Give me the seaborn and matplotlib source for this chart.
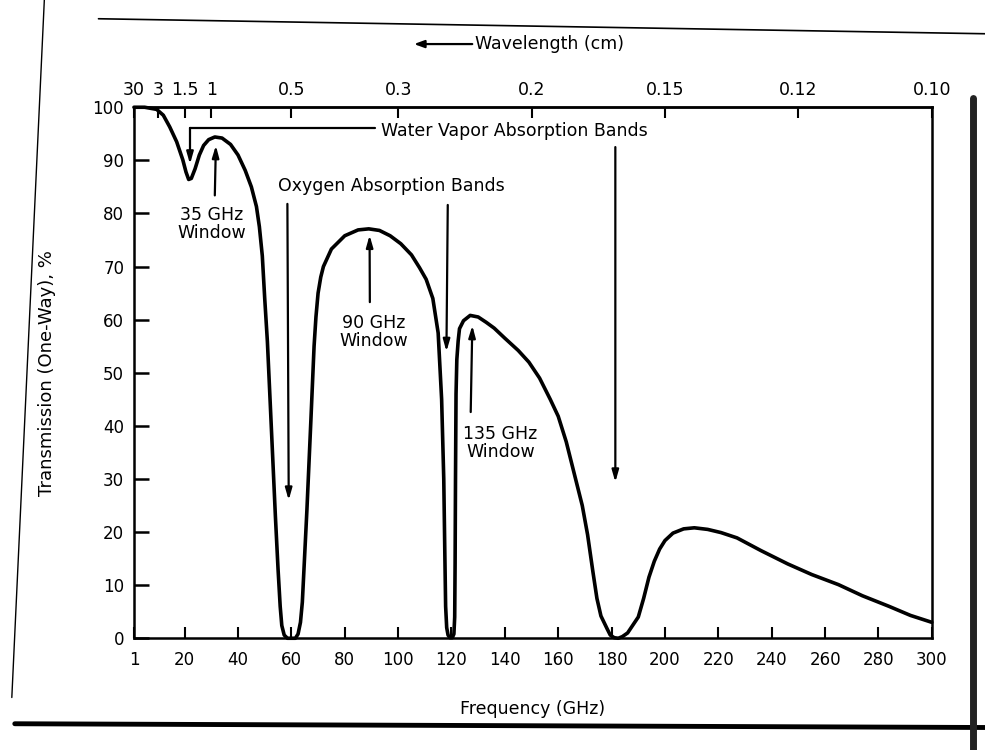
import matplotlib
matplotlib.use("Agg")
import matplotlib.pyplot as plt
from matplotlib.lines import Line2D
import seaborn as sns
import pandas as pd

# ---------------- data ----------------
freq_ghz = [1, 5, 9.5, 12, 14.4, 17, 19.3, 20.5, 21.5, 22.5, 23.9, 25.5, 27.1, 29, 31.3, 34,
            37.2, 40, 42.7, 45, 46.9, 48, 49.1, 50, 51, 52, 53, 54, 55, 55.8, 56.4, 57.3,
            58.5, 61.5, 62.5, 63.4, 64.1, 65.8, 67.3, 68.5, 69.2, 70, 71, 72, 75, 80, 85, 89,
            93, 97, 101, 105, 108, 110.5,
            113, 115, 116.3, 117.1, 117.5, 117.8, 118.2, 118.7, 119.4, 120.3, 120.9, 121.2,
            121.35, 121.5, 121.7, 122, 122.5, 123, 124.5,
            127, 130, 133, 136, 140, 145, 149, 153, 157, 160, 163, 166, 169, 171, 173, 174.5,
            176, 178.3, 179.5, 181, 182.5, 184, 186, 188, 190, 192, 194, 196, 198, 200, 203,
            207, 211, 216, 221, 227, 236, 246, 255, 265, 274, 284, 292, 300]
transmission_pct = [100, 100, 99.6, 98.5, 96.3, 93.5, 90.1, 87.8, 86.4, 86.6, 88.4, 91, 92.8,
                    93.9, 94.4, 94.2, 93, 91, 88.1, 85, 81.3, 77.5, 72, 64, 55.9, 45, 34, 23,
                    13, 6, 2.4, 0.6, 0, 0, 0.8, 3, 6.8, 24, 41, 55, 60.5, 65, 68, 70, 73.3,
                    75.8, 76.9, 77.1, 76.8, 75.8, 74.3, 72.2, 69.8, 67.6,
                    64, 57.5, 45, 30, 16, 6, 2, 0.6, 0.1, 0.1, 0.8, 4,
                    14, 30, 46, 52.5, 56, 58.3, 59.8,
                    60.8, 60.5, 59.5, 58.4, 56.5, 54.2, 52, 49, 45, 41.8, 37, 31, 25, 19.5, 12.5,
                    7.5, 4.2, 1.8, 0.6, 0.1, 0, 0.3, 1, 2.5, 4, 7.5, 11.5, 14.5, 16.8, 18.4,
                    19.8, 20.6, 20.8, 20.5, 19.9, 18.9, 16.5, 14, 12, 10.1, 8, 6, 4.3, 3]

x_ticks = [1, 20, 40, 60, 80, 100, 120, 140, 160, 180, 200, 220, 240, 260, 280, 300]
y_ticks = [0, 10, 20, 30, 40, 50, 60, 70, 80, 90, 100]
wavelength_tick_freqs = [1, 10, 20, 30, 60, 100, 150, 200, 250, 300]
wavelength_tick_labels = ["30", "3", "1.5", "1", "0.5", "0.3", "0.2", "0.15", "0.12", "0.10"]

df = pd.DataFrame({"Frequency (GHz)": freq_ghz, "Transmission": transmission_pct})

# ---------------- style ----------------
sns.set_style("white")
plt.rcParams["font.family"] = ["DejaVu Sans"]
plt.rcParams["axes.linewidth"] = 1.8
for key in ["text.color", "axes.labelcolor", "xtick.color", "ytick.color"]:
    plt.rcParams[key] = "black"

fig = plt.figure(figsize=(9.85, 7.5), dpi=100)
ax = fig.add_axes([0.136, 0.149, 0.810, 0.708])

sns.lineplot(data=df, x="Frequency (GHz)", y="Transmission", ax=ax, color="black",
             lw=2.6, estimator=None, sort=False, clip_on=False)
ax.lines[0].set_solid_joinstyle("round")

ax.set_xlim(1, 300)
ax.set_ylim(0, 100)
ax.set_xticks(x_ticks)
ax.set_xticklabels([str(t) for t in x_ticks], fontsize=12)
ax.set_yticks(y_ticks)
ax.set_yticklabels([str(t) for t in y_ticks], fontsize=12)
ax.tick_params(axis="x", direction="in", length=8, width=1.5, pad=9, bottom=True, top=False)
ax.tick_params(axis="y", direction="in", length=11, width=1.8, pad=7, left=True, right=False)
for s in ax.spines.values():
    s.set_color("black")
    s.set_linewidth(1.8)

ax.set_xlabel("Frequency (GHz)", fontsize=12.5)
ax.xaxis.set_label_coords(0.5, -0.117)
ax.set_ylabel("Transmission (One-Way), %", fontsize=13)
ax.yaxis.set_label_coords(-0.098, 0.5)

# top wavelength axis
top = ax.secondary_xaxis("top")
top.set_xticks(wavelength_tick_freqs)
top.set_xticklabels(wavelength_tick_labels, fontsize=12.5)
top.tick_params(direction="in", length=8, width=1.5, pad=6, colors="black")
top.spines["top"].set_linewidth(1.8)

ax.annotate("", xy=(0.351, 1.119), xytext=(0.424, 1.119), xycoords="axes fraction",
            arrowprops=dict(arrowstyle="-|>,head_length=0.6,head_width=0.22",
                            color="black", lw=1.6, shrinkA=0, shrinkB=0))
ax.text(0.428, 1.119, "Wavelength (cm)", transform=ax.transAxes, fontsize=12.5,
        ha="left", va="center")

# ---------------- annotations ----------------
arrow_kw = dict(arrowstyle="-|>,head_length=0.7,head_width=0.2", color="black", lw=1.6,
                shrinkA=0, shrinkB=0)
fs = 12.5

# Water vapour bands
ax.plot([22, 91.5], [96, 96], color="black", lw=1.6)
ax.annotate("", xy=(22, 89.3), xytext=(22, 96.1), arrowprops=arrow_kw)
ax.text(93.5, 95.6, "Water Vapor Absorption Bands", fontsize=fs, ha="left", va="center")
ax.annotate("", xy=(181.4, 29.4), xytext=(181.4, 92.5), arrowprops=arrow_kw)

# Oxygen bands
ax.text(97.5, 85.2, "Oxygen Absorption Bands", fontsize=fs, ha="center", va="center")
ax.annotate("", xy=(59, 26), xytext=(58.5, 81.8), arrowprops=arrow_kw)
ax.annotate("", xy=(118.1, 54), xytext=(118.6, 81.6), arrowprops=arrow_kw)

# Windows
ax.text(30.1, 78.1, "35 GHz\nWindow", fontsize=fs, ha="center", va="center", linespacing=1.0)
ax.annotate("", xy=(31.7, 92.8), xytext=(31.3, 83.4), arrowprops=arrow_kw)

ax.text(90.9, 57.7, "90 GHz\nWindow", fontsize=fs, ha="center", va="center", linespacing=1.0)
ax.annotate("", xy=(89.3, 75.9), xytext=(89.4, 63.3), arrowprops=arrow_kw)

ax.text(138.3, 36.7, "135 GHz\nWindow", fontsize=fs, ha="center", va="center", linespacing=1.0)
ax.annotate("", xy=(127.8, 58.9), xytext=(127.2, 42.6), arrowprops=arrow_kw)

# scanned page edges
fig.add_artist(Line2D([0.015, 1.0], [0.035, 0.030], color="black", lw=3.5))
fig.add_artist(Line2D([0.988, 0.988], [0.0, 0.87], color="#222222", lw=5))
fig.add_artist(Line2D([0.10, 1.0], [0.975, 0.955], color="black", lw=1.2))
fig.add_artist(Line2D([0.045, 0.012], [1.0, 0.07], color="black", lw=1.0))

fig.savefig("out.png", dpi=100)
